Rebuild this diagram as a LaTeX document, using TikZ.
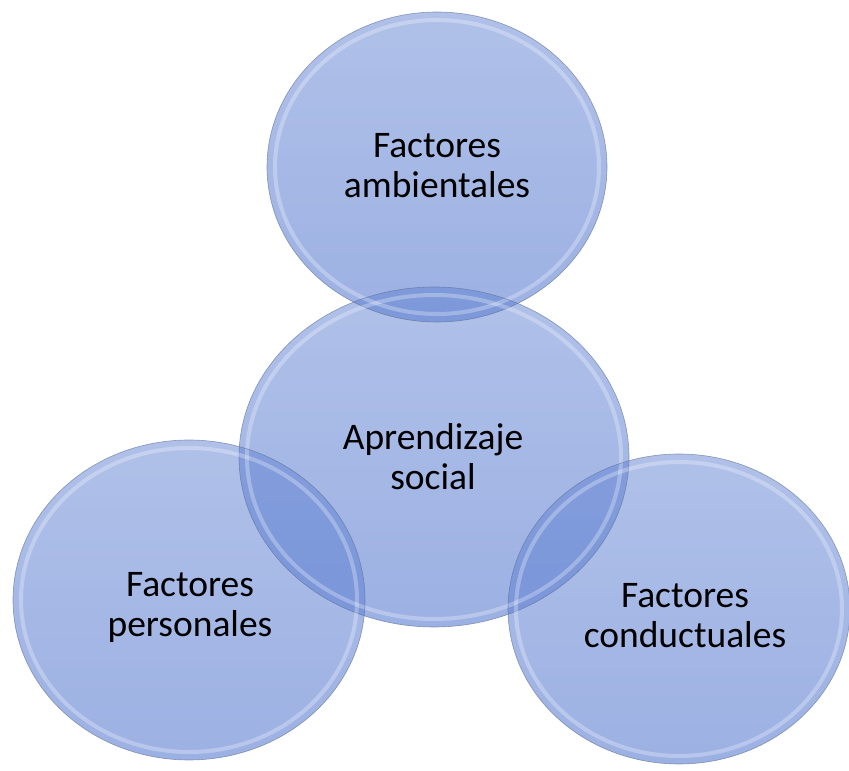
\documentclass[tikz,border=0pt]{standalone}
\usepackage{fontspec}
\setmainfont{Carlito}
\usepackage{tikz}
\usetikzlibrary{fadings}

\definecolor{bubblefill}{RGB}{97,130,210}
\definecolor{bubbleline}{RGB}{96,112,150}

\begin{document}
\begin{tikzpicture}[x=1pt,y=1pt]
    \tikzstyle{every node}=[font=\fontsize{37.5}{40}\selectfont, align=center, text=black]
    \tikzstyle{bubble}=[fill=bubblefill, fill opacity=0.5]
    \tikzstyle{shade}=[fill=bubblefill, fill opacity=0.25, path fading=north]
    \tikzstyle{rim}=[draw=white, line width=4pt, draw opacity=0.28]
    \tikzstyle{edge}=[draw=bubbleline, line width=0.6pt, draw opacity=0.65]
    \useasboundingbox (0,0) rectangle (849,771);
    % the four discs: centre x, centre y, radii
    \foreach \cx/\cy/\rx/\ry in {437/604/170/155, 434/314/195/170,
                                 189/171/176/160, 679/162/171/155} {
      \fill[bubble] (\cx,\cy) ellipse [x radius=\rx, y radius=\ry];
      \fill[shade] (\cx,\cy) ellipse [x radius=\rx, y radius=\ry];
    }
    \foreach \cx/\cy/\rx/\ry in {437/604/170/155, 434/314/195/170,
                                 189/171/176/160, 679/162/171/155} {
      \draw[rim] (\cx,\cy) ellipse [x radius=\rx-8, y radius=\ry-8];
      \draw[edge] (\cx,\cy) ellipse [x radius=\rx, y radius=\ry];
    }
    \node (amb) at (437,605) {Factores\\ambientales};
    \node (apr) at (433,314) {Aprendizaje\\social};
    \node (per) at (190,164) {Factores\\personales};
    \node (con) at (685,155) {Factores\\conductuales};
  \end{tikzpicture}
\end{document}
